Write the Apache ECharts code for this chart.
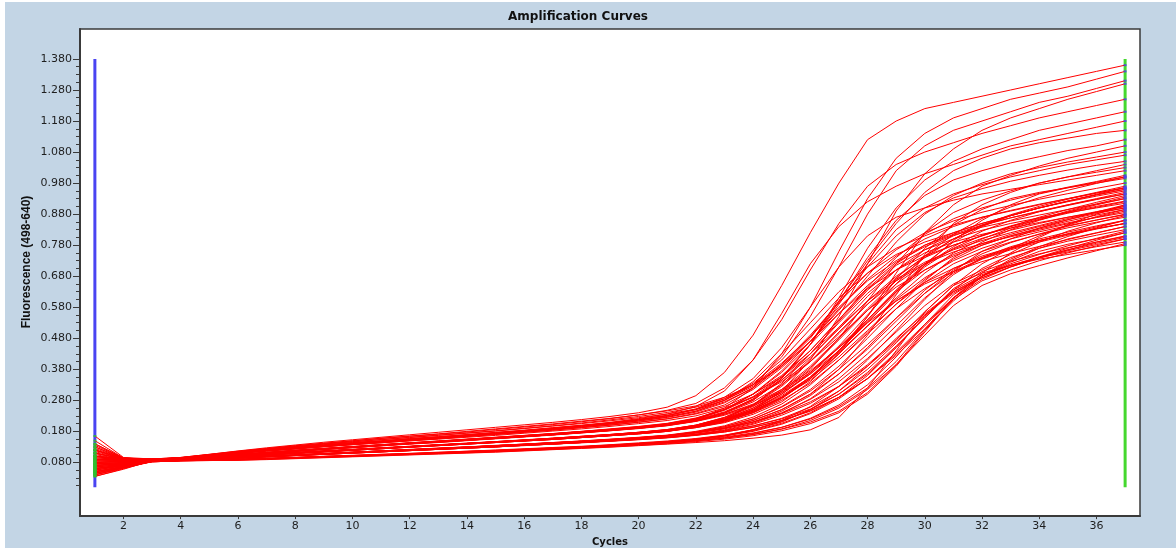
<!DOCTYPE html>
<html>
<head>
<meta charset="utf-8">
<script src="https://cdn.jsdelivr.net/npm/echarts@6/dist/echarts.min.js"></script>
<style>html,body{margin:0;padding:0;background:#fff}#chart{width:1176px;height:552px}</style>
</head>
<body>
<div id="chart"></div>
<script>
// ---- data ----
const chartTitle = 'Amplification Curves';
const xAxisTitle = 'Cycles';
const yAxisTitle = 'Fluorescence (498-640)';
const cycles = [1,2,3,4,5,6,7,8,9,10,11,12,13,14,15,16,17,18,19,20,21,22,23,24,25,26,27,28,29,30,31,32,33,34,35,36,37];
const xTickLabels = [2,4,6,8,10,12,14,16,18,20,22,24,26,28,30,32,34,36];
const yTickLabels = [0.08,0.18,0.28,0.38,0.48,0.58,0.68,0.78,0.88,0.98,1.08,1.18,1.28,1.38];
const yMinorTicks = [0.005,0.03,0.055,0.105,0.13,0.155,0.205,0.23,0.255,0.305,0.33,0.355,0.405,0.43,0.455,0.505,0.53,0.555,0.605,0.63,0.655,0.705,0.73,0.755,0.805,0.83,0.855,0.905,0.93,0.955,1.005,1.03,1.055,1.105,1.13,1.155,1.205,1.23,1.255,1.305,1.33,1.355];
const startMarkerCycle = 1;
const endMarkerCycle = 37;
const markerRange = [0.0, 1.38];

// fluorescence per well, cycles 1..37
const w01 = [0.12,0.092,.091,.096,.106,.117,.127,.136,.145,.153,.161,.169,.177,.185,.193,.201,.209,.218,.228,.240,.258, .295,.37,.49,.65,.82,.98,1.12,1.18,1.22,1.24,1.26,1.28,1.30,1.32,1.34,1.36];
const w02 = [0.07,0.075,.088,.092,.099,.106,.112,.119,.125,.131,.137,.143,.148,.154,.160,.166,.172,.179,.186,.193,.203, .22,.255,.32,.43,.58,.76,.93,1.06,1.14,1.19,1.22,1.25,1.27,1.29,1.315,1.34];
const w03 = [0.15,0.094,.090,.094,.103,.112,.120,.128,.135,.142,.148,.155,.161,.168,.175,.182,.190,.198,.207,.218,.231, .25,.28,.33,.42,.55,.71,.88,1.02,1.10,1.15,1.18,1.21,1.24,1.26,1.285,1.31];
const w04 = [0.05,0.068,.087,.090,.095,.100,.106,.111,.116,.121,.126,.131,.136,.141,.146,.151,.156,.162,.168,.175,.183, .195,.215,.25,.31,.41,.55,.72,.89,1.01,1.09,1.15,1.19,1.22,1.25,1.275,1.30];
const w05 = [0.10,0.09,.090,.095,.105,.115,.124,.133,.141,.149,.157,.164,.171,.178,.186,.194,.202,.211,.221,.233,.248, .27,.32,.41,.54,.70,.85,.97,1.04,1.08,1.11,1.14,1.165,1.19,1.21,1.23,1.25];
const w06 = [0.06,0.072,.089,.093,.098,.104,.111,.117,.124,.130,.135,.141,.147,.153,.158,.164,.170,.177,.184,.192,.200, .215,.24,.28,.35,.46,.61,.77,.90,.99,1.05,1.09,1.12,1.15,1.17,1.19,1.21];
const w07 = [0.13,0.093,.090,.095,.104,.113,.121,.129,.137,.144,.150,.157,.163,.170,.177,.184,.192,.200,.209,.221,.236, .26,.31,.41,.56,.72,.84,.92,.97,1.01,1.04,1.07,1.10,1.12,1.14,1.16,1.18];
const w08 = [0.08,0.082,.088,.091,.097,.104,.110,.117,.123,.129,.135,.141,.146,.152,.158,.164,.170,.177,.184,.192,.201, .215,.24,.28,.35,.46,.60,.74,.86,.94,.99,1.02,1.045,1.065,1.085,1.10,1.12];
const w09 = [0.04,0.062,.086,.090,.095,.100,.105,.110,.115,.120,.125,.130,.135,.140,.145,.150,.155,.161,.167,.173,.181, .192,.208,.235,.275,.34,.43,.55,.69,.82,.91,.97,1.005,1.035,1.06,1.08,1.10];
const w10 = [0.09,0.088,.089,.092,.098,.105,.111,.118,.124,.130,.136,.142,.147,.153,.159,.165,.171,.178,.185,.192,.201, .215,.24,.285,.355,.46,.59,.72,.83,.90,.945,.975,1.0,1.02,1.04,1.055,1.07];
const w11 = [0.11,0.091,.087,.091,.096,.101,.106,.111,.116,.121,.126,.131,.136,.141,.146,.152,.157,.163,.169,.176,.184, .198,.22,.255,.305,.38,.48,.60,.72,.82,.885,.925,.955,.98,1.0,1.02,1.04];
const w12 = [0.055,0.07,.085,.088,.092,.096,.100,.104,.108,.113,.117,.121,.125,.129,.133,.138,.142,.147,.152,.158,.164, .175,.19,.215,.25,.30,.38,.49,.62,.75,.85,.91,.95,.98,1.0,1.015,1.03];
const w13 = [0.12,0.092,.090,.094,.102,.111,.119,.127,.134,.141,.147,.154,.160,.167,.174,.181,.189,.197,.206,.217,.230, .252,.29,.35,.45,.58,.71,.81,.87,.90,.925,.945,.96,.975,.99,1.005,1.02];
const w14 = [0.07,0.076,.087,.090,.094,.099,.104,.109,.114,.119,.124,.129,.134,.139,.144,.149,.154,.160,.166,.172,.180, .192,.21,.24,.285,.35,.44,.55,.67,.77,.845,.895,.93,.95,.965,.98,.995];
const w15 = [0.10,0.09,.088,.092,.098,.104,.110,.116,.122,.128,.134,.140,.145,.151,.157,.163,.169,.176,.183,.191,.200, .218,.25,.30,.36,.44,.54,.64,.72,.78,.82,.85,.875,.90,.922,.944,.965];
const w16 = [0.045,0.064,.086,.089,.094,.099,.104,.109,.114,.119,.124,.129,.134,.139,.144,.149,.154,.160,.166,.173,.181, .195,.215,.245,.29,.355,.44,.54,.635,.715,.775,.825,.86,.888,.91,.93,.95];
const w17 = [0.085,0.085,.089,.093,.101,.109,.116,.123,.130,.137,.143,.150,.156,.163,.170,.177,.184,.192,.200,.210,.221, .238,.265,.315,.385,.47,.56,.64,.70,.745,.78,.81,.84,.87,.895,.918,.94];
const w18 = [0.065,0.073,.085,.088,.091,.095,.099,.103,.108,.112,.116,.121,.125,.129,.134,.138,.143,.148,.153,.159,.166, .178,.195,.22,.26,.315,.39,.48,.575,.665,.74,.79,.83,.86,.887,.91,.93];
const w19 = [0.14,0.094,.089,.093,.099,.105,.112,.118,.124,.130,.136,.142,.147,.153,.159,.165,.171,.178,.185,.193,.202, .22,.248,.29,.345,.42,.51,.60,.68,.74,.78,.81,.84,.862,.883,.902,.92];
const w20 = [0.05,0.066,.083,.086,.088,.089,.092,.095,.098,.101,.104,.107,.110,.114,.117,.121,.125,.129,.134,.139,.145, .153,.165,.185,.215,.26,.325,.41,.505,.605,.695,.76,.80,.835,.862,.887,.91];
const w21 = [0.09,0.087,.087,.090,.095,.101,.106,.111,.116,.121,.126,.131,.136,.141,.146,.151,.156,.162,.168,.175,.183, .197,.218,.25,.30,.365,.45,.54,.63,.70,.75,.785,.815,.84,.862,.882,.90];
const w22 = [0.075,0.079,.085,.087,.091,.094,.098,.102,.106,.110,.114,.118,.122,.126,.130,.135,.139,.144,.149,.155,.161, .17,.183,.203,.232,.27,.325,.395,.475,.565,.65,.72,.77,.81,.845,.872,.895];
const w23 = [0.11,0.091,.090,.094,.102,.110,.117,.124,.131,.137,.143,.149,.155,.161,.167,.174,.181,.188,.196,.205,.215, .23,.255,.29,.34,.405,.485,.57,.645,.70,.745,.78,.81,.832,.852,.869,.885];
const w24 = [0.04,0.062,.082,.085,.087,.089,.092,.095,.098,.101,.104,.107,.111,.114,.118,.122,.126,.130,.135,.140,.146, .155,.167,.185,.212,.25,.30,.37,.455,.545,.635,.705,.75,.79,.825,.852,.875];
const w25 = [0.095,0.089,.087,.091,.096,.101,.106,.111,.117,.122,.127,.132,.137,.142,.147,.152,.158,.164,.170,.177,.185, .198,.218,.248,.29,.345,.42,.505,.59,.66,.72,.76,.79,.815,.836,.854,.87];
const w26 = [0.06,0.071,.084,.087,.090,.094,.098,.102,.106,.110,.114,.118,.122,.126,.130,.134,.139,.143,.148,.153,.159, .167,.178,.193,.215,.245,.29,.35,.425,.51,.60,.68,.735,.775,.808,.836,.86];
const w27 = [0.08,0.083,.088,.092,.098,.105,.111,.117,.123,.129,.135,.140,.146,.151,.157,.163,.169,.175,.182,.190,.199, .213,.235,.265,.31,.37,.45,.54,.635,.72,.79,.84,.875,.90,.92,.938,.955];
const w28 = [0.035,0.058,.086,.089,.094,.099,.104,.109,.114,.119,.124,.129,.134,.139,.144,.149,.154,.160,.166,.172,.180, .195,.22,.265,.335,.43,.535,.635,.715,.765,.80,.828,.85,.868,.885,.90,.915];
const w29 = [0.07,0.077,.083,.086,.088,.090,.093,.096,.099,.102,.105,.108,.111,.115,.118,.122,.126,.130,.135,.140,.146, .153,.162,.175,.193,.22,.26,.32,.405,.51,.61,.68,.73,.77,.80,.82,.84];
const w30 = [0.12,0.092,.086,.089,.092,.096,.100,.104,.108,.113,.117,.121,.125,.129,.134,.138,.143,.148,.153,.159,.166, .176,.19,.21,.24,.283,.34,.415,.50,.585,.655,.70,.74,.77,.793,.812,.83];
const w31 = [0.05,0.066,.082,.085,.086,.087,.090,.093,.096,.099,.102,.105,.108,.111,.114,.118,.122,.126,.130,.135,.140, .147,.155,.166,.182,.205,.24,.30,.39,.50,.61,.68,.725,.76,.783,.80,.82];
const w32 = [0.10,0.09,.085,.088,.092,.096,.100,.104,.109,.113,.117,.121,.126,.130,.134,.139,.144,.149,.154,.160,.167, .177,.19,.21,.237,.275,.325,.39,.47,.555,.625,.675,.71,.74,.765,.79,.81];
const w33 = [0.045,0.064,.083,.086,.087,.088,.091,.094,.097,.100,.103,.106,.109,.112,.116,.119,.123,.127,.132,.137,.142, .149,.158,.17,.187,.21,.245,.305,.395,.505,.605,.665,.70,.73,.755,.778,.80];
const w34 = [0.085,0.084,.085,.088,.091,.095,.099,.103,.107,.111,.115,.119,.123,.127,.131,.136,.140,.145,.150,.155,.161, .17,.182,.198,.22,.252,.30,.365,.45,.55,.635,.685,.715,.74,.758,.775,.79];
const w35 = [0.06,0.07,.082,.085,.086,.087,.089,.092,.095,.098,.101,.104,.107,.110,.113,.117,.121,.125,.129,.134,.139, .144,.15,.158,.168,.185,.225,.32,.44,.565,.65,.69,.715,.735,.75,.765,.78];
const w36 = [0.115,0.092,.090,.094,.102,.110,.118,.125,.132,.139,.145,.151,.157,.164,.170,.177,.184,.192,.200,.209,.220, .236,.26,.30,.355,.43,.515,.60,.67,.725,.765,.795,.82,.843,.866,.886,.905];
const w37 = [0.055,0.07,.086,.090,.095,.100,.105,.110,.115,.120,.125,.130,.135,.140,.145,.150,.155,.161,.167,.174,.182, .195,.215,.245,.29,.35,.43,.52,.61,.69,.755,.80,.835,.863,.89,.913,.935];
const w38 = [0.09,0.086,.087,.090,.095,.100,.105,.110,.115,.120,.125,.130,.135,.140,.145,.150,.156,.162,.168,.175,.183, .197,.218,.25,.295,.355,.435,.52,.60,.66,.705,.74,.77,.795,.816,.834,.85];
const w39 = [0.04,0.062,.084,.087,.090,.094,.098,.102,.106,.110,.114,.118,.122,.126,.130,.135,.139,.144,.149,.154,.160, .168,.18,.197,.222,.258,.31,.38,.465,.555,.63,.68,.72,.75,.778,.802,.825];
const w40 = [0.165,0.096,.091,.096,.106,.116,.125,.134,.142,.150,.158,.165,.172,.180,.188,.196,.204,.213,.222,.233,.246, .262,.29,.33,.39,.47,.57,.68,.79,.88,.94,.98,1.01,1.03,1.048,1.064,1.08];
const w41 = [0.075,0.08,.089,.093,.101,.109,.117,.124,.131,.138,.145,.151,.158,.165,.172,.179,.187,.195,.204,.214,.226, .245,.275,.32,.39,.48,.60,.73,.85,.95,1.02,1.06,1.09,1.11,1.125,1.14,1.15];
const w42 = [0.13,0.093,.090,.095,.104,.114,.123,.131,.139,.147,.154,.161,.168,.175,.182,.190,.198,.207,.217,.228,.241, .258,.285,.335,.41,.51,.61,.69,.75,.79,.82,.85,.875,.90,.922,.942,.96];
const w43 = [0.065,0.074,.083,.086,.088,.090,.093,.096,.100,.103,.106,.109,.113,.116,.120,.124,.128,.132,.137,.143,.149, .157,.168,.185,.21,.25,.31,.39,.48,.56,.63,.675,.71,.738,.762,.782,.80];
const w44 = [0.10,0.089,.088,.092,.097,.103,.109,.115,.121,.127,.133,.139,.144,.150,.156,.162,.168,.175,.182,.189,.198, .212,.232,.262,.305,.365,.44,.53,.625,.715,.795,.86,.91,.945,.965,.983,1.0];
const w45 = [0.12,0.092,.090,.094,.103,.111,.119,.127,.134,.141,.147,.154,.160,.167,.174,.181,.189,.197,.206,.216,.228, .245,.28,.34,.43,.53,.63,.71,.77,.81,.845,.87,.89,.91,.93,.95,.97];
const w46 = [0.08,0.084,.089,.093,.099,.106,.112,.119,.125,.131,.137,.143,.149,.155,.161,.167,.173,.180,.187,.195,.205, .222,.25,.30,.37,.46,.56,.65,.725,.775,.812,.838,.858,.877,.895,.912,.93];
const w47 = [0.10,0.09,.087,.091,.096,.101,.106,.112,.117,.122,.127,.132,.137,.142,.147,.153,.158,.164,.170,.177,.186, .20,.225,.265,.325,.405,.50,.59,.665,.72,.758,.785,.807,.828,.849,.87,.89];
const w48 = [0.14,0.094,.090,.094,.103,.112,.120,.128,.136,.143,.149,.156,.163,.169,.176,.183,.191,.199,.208,.219,.232, .25,.28,.325,.395,.485,.595,.71,.81,.885,.932,.962,.986,1.005,1.022,1.037,1.05];
const w49 = [0.07,0.076,.087,.090,.095,.100,.105,.110,.115,.120,.125,.130,.135,.140,.145,.150,.155,.161,.167,.174,.182, .195,.213,.24,.28,.335,.41,.495,.575,.64,.695,.737,.768,.794,.817,.839,.86];
const w50 = [0.045,0.063,.083,.086,.088,.090,.093,.096,.099,.102,.106,.109,.112,.116,.119,.123,.127,.131,.136,.141,.147, .155,.165,.18,.203,.237,.285,.35,.435,.525,.61,.67,.71,.742,.77,.796,.82];
const w51 = [0.11,0.091,.090,.095,.105,.114,.123,.131,.139,.146,.153,.160,.167,.174,.181,.189,.197,.205,.214,.224,.236, .252,.285,.33,.40,.485,.58,.665,.73,.78,.815,.845,.868,.888,.908,.927,.945];
const w52 = [0.06,0.072,.087,.090,.095,.101,.106,.111,.116,.121,.126,.131,.136,.141,.146,.151,.157,.163,.169,.176,.184, .198,.218,.25,.30,.37,.455,.555,.655,.745,.815,.866,.903,.933,.957,.979,1.0];
const w53 = [0.10,0.09,.085,.088,.092,.096,.100,.104,.108,.112,.117,.121,.125,.129,.134,.138,.143,.148,.153,.159,.166, .177,.192,.215,.25,.30,.365,.445,.535,.625,.70,.752,.788,.816,.841,.861,.88];
const w54 = [0.09,0.087,.088,.092,.098,.104,.110,.116,.122,.128,.134,.140,.145,.151,.157,.163,.169,.176,.183,.190,.199, .213,.235,.268,.315,.375,.45,.53,.60,.655,.695,.727,.753,.776,.798,.819,.84];
const w55 = [0.05,0.066,.084,.087,.090,.094,.098,.102,.106,.110,.114,.118,.122,.126,.130,.135,.139,.144,.149,.154,.160, .168,.178,.193,.215,.247,.29,.35,.43,.52,.61,.69,.755,.805,.847,.88,.91];
const w56 = [0.075,0.079,.083,.086,.088,.089,.092,.095,.098,.101,.104,.107,.110,.113,.117,.120,.124,.128,.133,.138,.143, .15,.158,.17,.188,.215,.255,.315,.395,.49,.585,.65,.688,.714,.739,.762,.785];
const w57 = [0.105,0.09,.088,.092,.098,.105,.111,.118,.124,.130,.136,.142,.148,.154,.160,.166,.172,.179,.186,.194,.204, .22,.25,.30,.375,.47,.575,.67,.745,.80,.84,.87,.892,.912,.93,.948,.965];
const w58 = [0.065,0.074,.087,.090,.095,.100,.106,.111,.116,.121,.126,.131,.136,.141,.146,.151,.157,.163,.169,.176,.185, .20,.225,.265,.33,.415,.515,.615,.70,.765,.81,.843,.868,.89,.91,.928,.945];
const w59 = [0.125,0.093,.090,.094,.102,.110,.118,.125,.132,.139,.145,.152,.158,.165,.172,.179,.186,.194,.203,.213,.225, .242,.272,.32,.395,.49,.595,.69,.765,.82,.858,.886,.908,.928,.946,.963,.98];
const w60 = [0.055,0.069,.085,.088,.092,.096,.100,.104,.109,.113,.117,.122,.126,.130,.135,.139,.144,.149,.155,.161,.168, .18,.198,.226,.268,.33,.41,.50,.59,.67,.735,.78,.81,.835,.857,.877,.895];
const w61 = [0.095,0.088,.089,.093,.099,.105,.111,.118,.124,.130,.136,.142,.148,.154,.160,.166,.172,.179,.186,.194,.203, .218,.243,.283,.345,.43,.53,.625,.70,.755,.79,.815,.835,.853,.87,.885,.90];
const w62 = [0.045,0.065,.086,.089,.094,.099,.104,.109,.114,.119,.124,.129,.134,.139,.144,.149,.154,.160,.166,.172,.180, .193,.212,.242,.287,.35,.43,.52,.605,.675,.73,.77,.80,.823,.843,.861,.878];
const w63 = [0.08,0.082,.085,.088,.092,.096,.100,.104,.108,.112,.117,.121,.125,.130,.134,.139,.143,.148,.154,.160,.167, .178,.195,.22,.258,.31,.38,.46,.545,.625,.69,.735,.765,.79,.812,.832,.85];
const w64 = [0.135,0.094,.089,.093,.099,.106,.112,.119,.125,.131,.137,.143,.149,.155,.161,.167,.173,.180,.188,.196,.206, .223,.25,.292,.355,.44,.54,.645,.74,.815,.865,.90,.925,.947,.967,.985,1.005];
const w65 = [0.07,0.076,.083,.086,.088,.090,.093,.096,.099,.102,.105,.108,.111,.115,.118,.122,.126,.130,.135,.141,.147, .155,.166,.182,.206,.24,.29,.36,.45,.55,.64,.695,.728,.752,.772,.79,.808];
const w66 = [0.09,0.087,.087,.091,.096,.101,.106,.111,.116,.121,.126,.131,.136,.141,.146,.152,.157,.163,.169,.176,.184, .198,.22,.255,.31,.385,.475,.57,.655,.72,.768,.802,.828,.85,.87,.888,.905];
const w67 = [0.06,0.071,.084,.087,.091,.095,.099,.103,.107,.111,.115,.119,.123,.127,.132,.136,.141,.146,.151,.157,.164, .174,.188,.21,.245,.295,.365,.45,.545,.635,.705,.745,.772,.795,.815,.833,.85];
const w68 = [0.11,0.091,.087,.091,.096,.101,.106,.111,.116,.121,.126,.131,.136,.141,.147,.152,.158,.164,.170,.177,.186, .20,.223,.26,.315,.39,.48,.575,.665,.74,.80,.845,.878,.905,.928,.948,.965];
const w69 = [0.05,0.066,.082,.085,.087,.089,.092,.095,.098,.101,.104,.107,.110,.113,.117,.120,.124,.128,.133,.138,.144, .151,.16,.173,.193,.222,.265,.33,.42,.525,.62,.68,.715,.742,.765,.786,.805];
const w70 = [0.085,0.085,.088,.092,.098,.104,.110,.116,.122,.128,.134,.140,.146,.152,.157,.163,.169,.176,.183,.191,.200, .215,.238,.275,.33,.405,.495,.59,.675,.745,.80,.843,.875,.90,.922,.942,.96];
const w71 = [0.075,0.079,.086,.090,.095,.100,.105,.110,.115,.120,.125,.130,.135,.140,.145,.150,.155,.161,.167,.174,.182, .195,.215,.245,.29,.355,.44,.535,.63,.71,.77,.812,.842,.866,.887,.905,.922];
const w72 = [0.035,0.06,.084,.087,.090,.094,.098,.102,.106,.110,.114,.118,.122,.126,.130,.135,.139,.144,.149,.155,.161, .171,.185,.206,.238,.285,.35,.43,.52,.61,.685,.74,.775,.80,.822,.842,.86];

const wells = [w01,w02,w03,w04,w05,w06,w07,w08,w09,w10,w11,w12,w13,w14,w15,w16,w17,w18,w19,w20,
  w21,w22,w23,w24,w25,w26,w27,w28,w29,w30,w31,w32,w33,w34,w35,w36,w37,w38,w39,w40,
  w41,w42,w43,w44,w45,w46,w47,w48,w49,w50,w51,w52,w53,w54,w55,w56,w57,w58,w59,w60,
  w61,w62,w63,w64,w65,w66,w67,w68,w69,w70,w71,w72];

// ---- chart ----
const yMin = -0.093, yMax = 1.4765, xMin = 0.48, xMax = 37.52;
const axisColor = '#3a3a3a';
const labelFont = {color: '#1e1e1e', fontSize: 11, fontFamily: 'DejaVu Sans'};

const series = [];
series.push({
  type: 'line', silent: true, animation: false, showSymbol: false, z: 1,
  data: markerRange.map(v => [startMarkerCycle, v]),
  lineStyle: {color: '#4a44f2', width: 3}
});
series.push({
  type: 'line', silent: true, animation: false, showSymbol: false, z: 1,
  data: markerRange.map(v => [endMarkerCycle, v]),
  lineStyle: {color: '#45d82e', width: 3}
});
wells.forEach(w => {
  series.push({
    type: 'line', silent: true, animation: false, showSymbol: false, z: 2,
    data: cycles.map((c, i) => [c, w[i]]),
    lineStyle: {color: '#ff0000', width: 1}
  });
});
series.push({
  type: 'scatter', silent: true, animation: false, z: 3,
  symbol: 'rect', symbolSize: [3, 2],
  itemStyle: {color: '#2fbf2f'},
  data: wells.map(w => [startMarkerCycle, w[0]])
});
series.push({
  type: 'scatter', silent: true, animation: false, z: 3,
  symbol: 'rect', symbolSize: [3, 2],
  itemStyle: {color: '#4a44f2'},
  data: wells.map(w => [endMarkerCycle, w[w.length - 1]])
});

const chart = echarts.init(document.getElementById('chart'), null, {renderer: 'canvas'});
chart.setOption({
  animation: false,
  backgroundColor: '#ffffff',
  graphic: [
    {type: 'rect', z: -100, shape: {x: 5, y: 2, width: 1171, height: 546}, style: {fill: '#c3d5e5'}},
    {type: 'text', z: 100, x: 578, y: 17,
     style: {text: chartTitle, fill: '#111', font: 'bold 12px "DejaVu Sans"', align: 'center', verticalAlign: 'middle'}},
    {type: 'text', z: 100, x: 27, y: 262, rotation: Math.PI / 2,
     style: {text: yAxisTitle, fill: '#111', font: 'bold 12px "Liberation Sans Narrow", "Liberation Sans", sans-serif', align: 'center', verticalAlign: 'middle'}}
  ],
  grid: {left: 80, right: 36, top: 29, bottom: 34, show: true, backgroundColor: '#ffffff', borderColor: axisColor, borderWidth: 1.5, containLabel: false},
  xAxis: [{
    type: 'value', min: xMin, max: xMax,
    name: xAxisTitle, nameLocation: 'middle', nameGap: 14,
    nameTextStyle: {color: '#111', fontSize: 10, fontWeight: 'bold', fontFamily: 'DejaVu Sans'},
    axisLine: {show: true, onZero: false, lineStyle: {color: axisColor, width: 2}},
    axisTick: {show: true, length: 3, customValues: xTickLabels, lineStyle: {color: axisColor}},
    axisLabel: Object.assign({customValues: xTickLabels, margin: 5}, labelFont),
    splitLine: {show: false}
  }],
  yAxis: [{
    type: 'value', min: yMin, max: yMax,
    axisLine: {show: true, onZero: false, lineStyle: {color: axisColor, width: 2}},
    axisTick: {show: true, length: 7, customValues: yTickLabels, lineStyle: {color: axisColor}},
    axisLabel: Object.assign({customValues: yTickLabels, margin: 8, formatter: v => v.toFixed(3)}, labelFont),
    splitLine: {show: false}
  }, {
    type: 'value', min: yMin, max: yMax, position: 'left', offset: 0,
    axisLine: {show: false, onZero: false},
    axisTick: {show: true, length: 4, customValues: yMinorTicks, lineStyle: {color: axisColor}},
    axisLabel: {show: false},
    splitLine: {show: false}
  }],
  series: series
});
</script>
</body>
</html>
